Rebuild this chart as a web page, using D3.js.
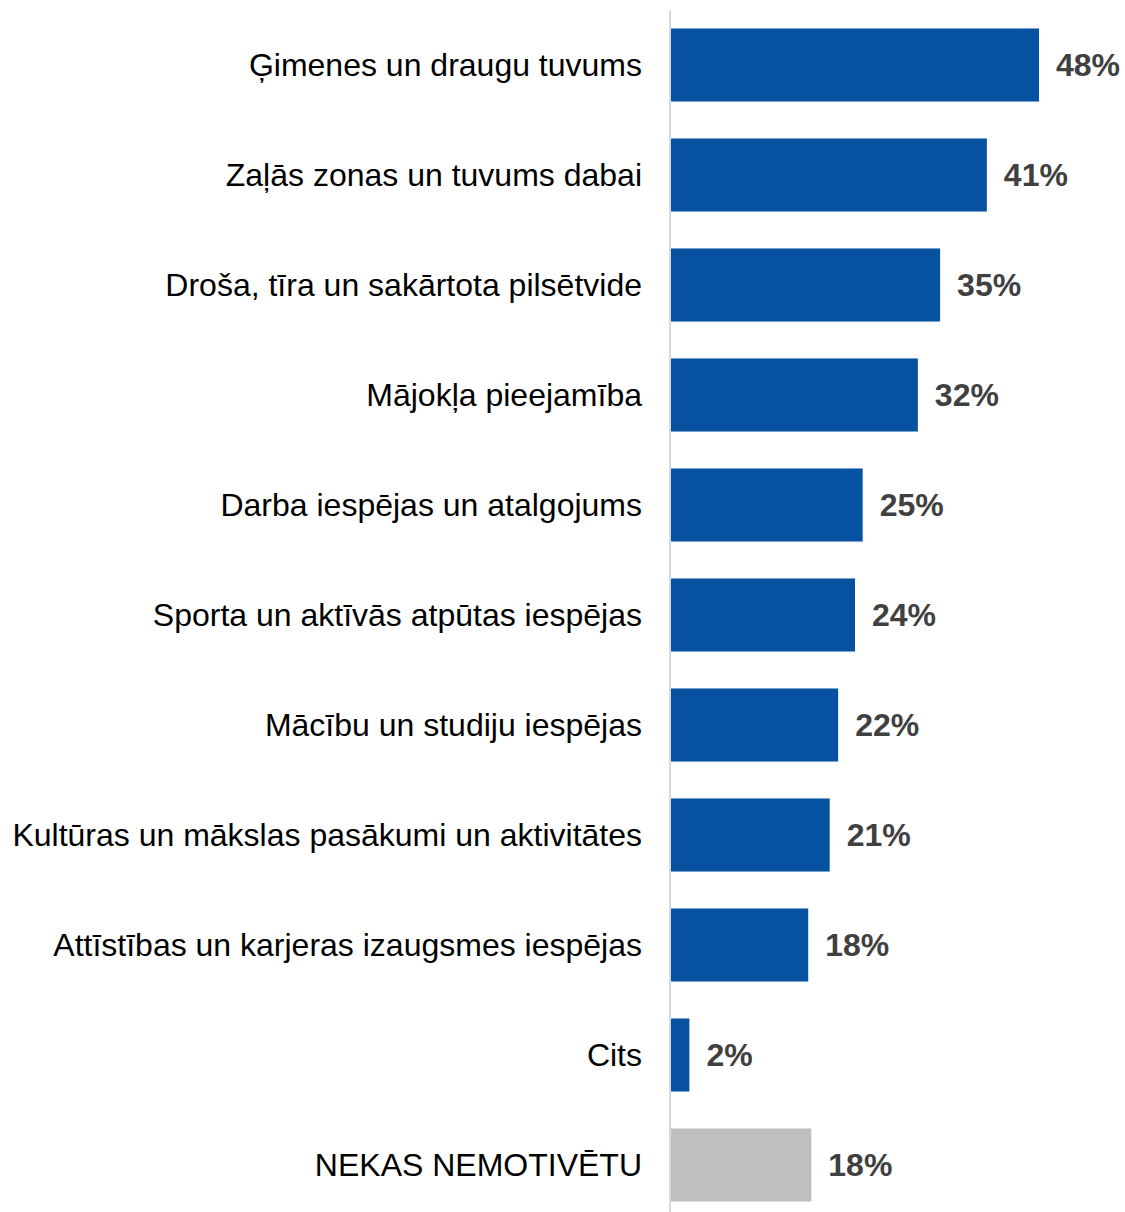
<!DOCTYPE html>
<html>
<head>
<meta charset="utf-8">
<script src="https://cdn.jsdelivr.net/npm/d3@7"></script>
<style>
  html, body { margin: 0; padding: 0; background: #fff; }
  svg { display: block; }
</style>
</head>
<body>
<script>
const categories = [
  "Ģimenes un draugu tuvums",
  "Zaļās zonas un tuvums dabai",
  "Droša, tīra un sakārtota pilsētvide",
  "Mājokļa pieejamība",
  "Darba iespējas un atalgojums",
  "Sporta un aktīvās atpūtas iespējas",
  "Mācību un studiju iespējas",
  "Kultūras un mākslas pasākumi un aktivitātes",
  "Attīstības un karjeras izaugsmes iespējas",
  "Cits",
  "NEKAS NEMOTIVĒTU"
];
const values = [48.0, 41.2, 35.1, 32.2, 25.0, 24.0, 21.8, 20.7, 17.9, 2.4, 18.3];
const labels = ["48%", "41%", "35%", "32%", "25%", "24%", "22%", "21%", "18%", "2%", "18%"];
const highlight = [false, false, false, false, false, false, false, false, false, false, true];

const W = 1125, H = 1212;
const svg = d3.select("body").append("svg").attr("width", W).attr("height", H);

const x0 = 671;
const x = d3.scaleLinear().domain([0, 48]).range([x0, 1039]);
const y = d3.scaleBand().domain(categories).range([10, 1220]).paddingInner(0.336).paddingOuter(0.168);

svg.append("g").selectAll("rect").data(categories).join("rect")
  .attr("x", x(0))
  .attr("y", d => y(d))
  .attr("width", (d, i) => x(values[i]) - x(0))
  .attr("height", y.bandwidth())
  .attr("fill", (d, i) => highlight[i] ? "#BFBFBF" : "#0652A0");

// axis line
svg.append("line")
  .attr("x1", 670).attr("x2", 670)
  .attr("y1", 10).attr("y2", H)
  .attr("stroke", "#D9D9D9").attr("stroke-width", 2);

svg.append("g").selectAll("text").data(categories).join("text")
  .attr("x", 642)
  .attr("y", d => y(d) + y.bandwidth() / 2)
  .attr("dy", "0.35em")
  .attr("text-anchor", "end")
  .attr("font-family", "Liberation Sans, Arial, sans-serif")
  .attr("font-size", 32)
  .attr("fill", "#000")
  .text(d => d);

svg.append("g").selectAll("text").data(categories).join("text")
  .attr("x", (d, i) => x(values[i]) + 17)
  .attr("y", d => y(d) + y.bandwidth() / 2)
  .attr("dy", "0.35em")
  .attr("font-family", "Liberation Sans, Arial, sans-serif")
  .attr("font-size", 32)
  .attr("font-weight", "bold")
  .attr("fill", "#404040")
  .text((d, i) => labels[i]);
</script>
</body>
</html>
